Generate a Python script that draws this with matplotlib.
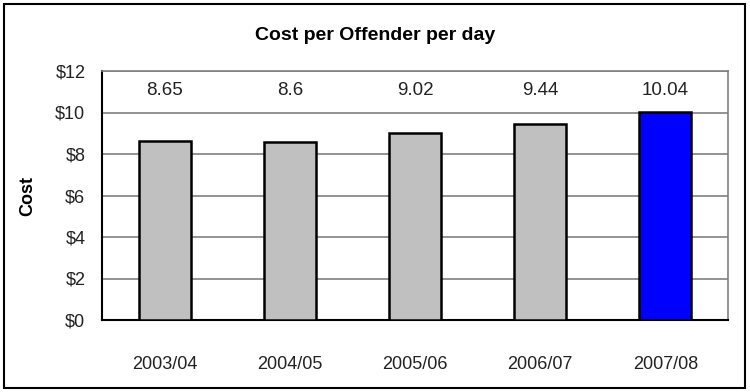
import matplotlib.pyplot as plt
from matplotlib.patches import Rectangle

# data
years = ["2003/04", "2004/05", "2005/06", "2006/07", "2007/08"]
cost = [8.65, 8.6, 9.02, 9.44, 10.04]
bar_colors = ["#c0c0c0", "#c0c0c0", "#c0c0c0", "#c0c0c0", "#0000ff"]
yticks = [0, 2, 4, 6, 8, 10, 12]

plt.rcParams["font.family"] = ["Liberation Sans", "DejaVu Sans"]

fig = plt.figure(figsize=(7.5, 3.92), dpi=100)
ax = fig.add_axes([102 / 750, 1 - 320 / 392, 626 / 750, 249 / 392])

ax.grid(True, axis="y", color="#808080", linewidth=1.2, zorder=0)
ax.set_axisbelow(True)
x = list(range(len(years)))
ax.bar(x, cost, width=0.415, color=bar_colors, edgecolor="black", linewidth=1.8, zorder=3)

# value labels sit in a row above the bars
for xi, v in zip(x, cost):
    ax.text(xi, 11.05, f"{v:g}", ha="center", va="center", fontsize=13.5, color="#222222")

ax.set_xlim(-0.5, len(years) - 0.5)
ax.set_ylim(0, 12)
ax.set_yticks(yticks)
ax.set_yticklabels([f"${t}" for t in yticks], fontsize=13)
ax.set_xticks(x)
ax.set_xticklabels(years, fontsize=13)
ax.tick_params(axis="x", length=0, pad=26, colors="#222222")
ax.tick_params(axis="y", length=0, pad=12, colors="#222222")

for side in ["top", "right"]:
    ax.spines[side].set_color("#808080")
    ax.spines[side].set_linewidth(1.2)
for side in ["left", "bottom"]:
    ax.spines[side].set_color("black")
    ax.spines[side].set_linewidth(1.5)

ax.set_ylabel("Cost", fontsize=13, fontweight="bold", labelpad=14)
fig.text(0.5, 1 - 35 / 392, "Cost per Offender per day", ha="center", va="center",
         fontsize=14, fontweight="bold")

# outer chart border
fig.patches.append(Rectangle((4 / 750, 4 / 392), 741 / 750, 384 / 392, transform=fig.transFigure,
                             fill=False, edgecolor="black", linewidth=1.5))

fig.savefig("out.png", dpi=100)
